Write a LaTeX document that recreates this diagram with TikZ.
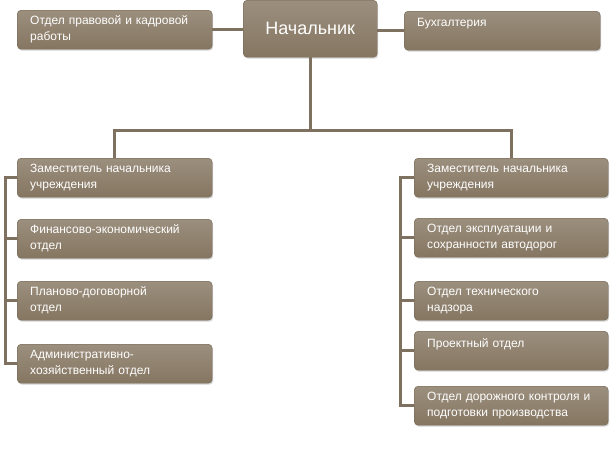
\documentclass[tikz,border=0pt]{standalone}
\usepackage{fontspec}
\setmainfont{Liberation Sans}
\usetikzlibrary{positioning,shadows}
\definecolor{boxfill}{HTML}{857661}
\definecolor{linkcol}{HTML}{7F715F}
\begin{document}
\begin{tikzpicture}
      [x=1pt,y=-1pt,
       unit/.style={draw=boxfill!85!black, top color=boxfill!82!white, bottom color=boxfill,
         rounded corners=4pt, text=white, font=\fontsize{12}{16}\selectfont,
         align=left, anchor=north west, inner xsep=13pt, inner ysep=0pt,
         minimum height=39pt, text width=169pt,
         drop shadow={shadow xshift=1pt, shadow yshift=-1.5pt, opacity=.35}},
       chief/.style={unit, align=center, text width=108pt, minimum height=57pt,
         font=\fontsize{18}{20}\selectfont},
       link/.style={draw=linkcol, line width=3pt}]
    \useasboundingbox (0,0) rectangle (610,458);

    % top row
    \node[unit]  (pravo) at (17,10)  {Отдел правовой  и кадровой\\работы};
    \node[chief] (head)  at (243,0)  {Начальник};
    \node[unit, text width=170pt] (buh) at (404,11) {Бухгалтерия\\\mbox{}};

    % left column
    \node[unit] (ldep) at (17,158) {Заместитель начальника\\учреждения};
    \node[unit] (fin)  at (17,219) {Финансово-экономический\\отдел};
    \node[unit] (plan) at (17,281) {Планово-договорной\\отдел};
    \node[unit] (adm)  at (17,344) {Административно-\\хозяйственный отдел};

    % right column
    \node[unit, text width=168pt] (rdep) at (414,158) {Заместитель начальника\\учреждения};
    \node[unit, text width=168pt] (expl) at (414,218) {Отдел эксплуатации и\\сохранности автодорог};
    \node[unit, text width=168pt] (tech) at (414,281) {Отдел технического\\надзора};
    \node[unit, text width=168pt] (proj) at (414,331) {Проектный отдел\\\mbox{}};
    \node[unit, text width=168pt] (road) at (414,386) {Отдел дорожного контроля и\\подготовки производства};

    % links
    \draw[link] (pravo.east) -- (head.west |- pravo.east);
    \draw[link] (buh.west) -- (head.east |- buh.west);
    \draw[link] (head.south) -- ++(0,73) coordinate (fork);
    \draw[link] (fork) -| (ldep.north);
    \draw[link] (fork) -| (rdep.north);

    \draw[link] (ldep.west) -- ++(-12,0) coordinate (lspine) |- (adm.west);
    \foreach \n in {fin, plan}
      \draw[link] (lspine |- \n.west) -- (\n.west);

    \draw[link] (rdep.west) -- ++(-14,0) coordinate (rspine) |- (road.west);
    \foreach \n in {expl, tech, proj}
      \draw[link] (rspine |- \n.west) -- (\n.west);
\end{tikzpicture}
\end{document}
